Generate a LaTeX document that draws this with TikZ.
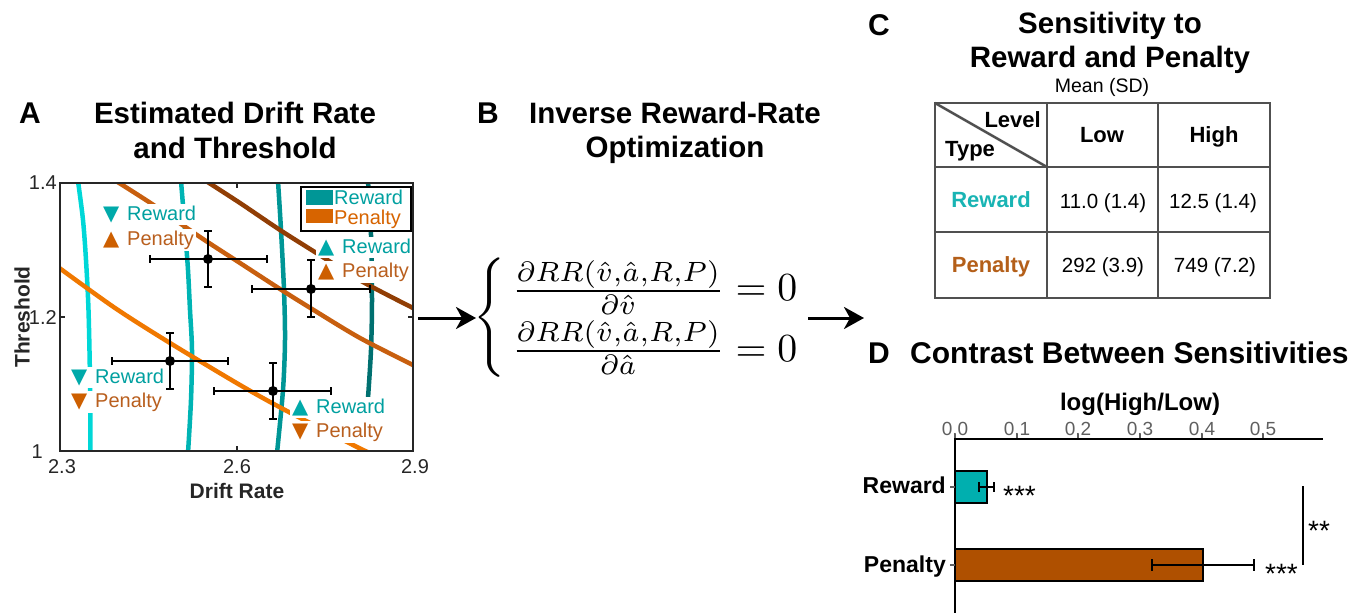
\documentclass[tikz,border=0pt]{standalone}
\usepackage[no-math]{fontspec}
\setmainfont{Liberation Sans}
\newfontfamily\djv{DejaVu Sans}
\usetikzlibrary{arrows.meta}
\newcommand\setfs[1]{\fontsize{#1}{#1}\selectfont}
\definecolor{cyA}{RGB}{0,215,215}
\definecolor{cyB}{RGB}{0,180,180}
\definecolor{cyC}{RGB}{0,150,150}
\definecolor{cyD}{RGB}{0,112,112}
\definecolor{orA}{RGB}{240,120,0}
\definecolor{orB}{RGB}{200,95,15}
\definecolor{orC}{RGB}{145,62,5}
\definecolor{rewT}{RGB}{0,160,160}
\definecolor{penT}{RGB}{185,95,30}
\definecolor{triT}{RGB}{0,170,170}
\definecolor{triO}{RGB}{205,95,0}
\definecolor{legT}{RGB}{0,150,150}
\definecolor{legO}{RGB}{215,100,0}
\definecolor{tabT}{RGB}{25,180,180}
\definecolor{tabO}{RGB}{180,95,25}
\definecolor{barT}{RGB}{0,175,175}
\definecolor{barO}{RGB}{175,80,0}
\definecolor{tabline}{RGB}{80,80,80}
\definecolor{axgray}{RGB}{95,95,95}
\newcommand\tri[2]{\makebox[24pt][l]{\raisebox{-0.5pt}{\djv\setfs{21}\textcolor{#1}{#2}}}}
\begin{document}
\begin{tikzpicture}[x=1pt,y=-1pt,
  ttl/.style={font=\setfs{29.5}\bfseries, anchor=base, inner sep=0},
  plab/.style={font=\setfs{30}\bfseries, anchor=base west, inner sep=0},
  ticklab/.style={font=\setfs{20}, text=black!85, inner sep=0},
  lbl/.style={fill=white, inner sep=2pt, anchor=base west, font=\setfs{20}},
  crv/.style={line width=4.5pt},
  errb/.style={line width=2.8pt, black},
  arr/.style={line width=3pt, -{Stealth[length=20pt,width=22pt,inset=6pt]}},
  tbl/.style={line width=2.5pt, tabline},
  tbold/.style={font=\setfs{22}\bfseries, anchor=base, inner sep=0},
  tval/.style={font=\setfs{20.5}, anchor=base, inner sep=0},
  dlab/.style={font=\setfs{23}\bfseries, anchor=base east, inner sep=0},
  star/.style={font=\setfs{28}, anchor=base west, inner sep=0},
  bar/.style={line width=2.2pt, draw=black}
]
\useasboundingbox (0,0) rectangle (1369,613);

% ---------------- Panel A ----------------
\node[plab] (labA) at (19,123) {A};
\node[ttl] (tA1) at (235,123) {Estimated Drift Rate};
\node[ttl] (tA2) at (235,158) {and Threshold};

\begin{scope}
\clip (60,183) rectangle (413,451);
\draw[crv, cyA] plot[smooth] coordinates {(78,181) (83,220) (86,260) (88.5,310) (90,380) (90.5,453)};
\draw[crv, cyB] plot[smooth] coordinates {(181,181) (185,230) (188,270) (190,310) (192,350) (191,400) (188,453)};
\draw[crv, cyC] plot[smooth] coordinates {(278,181) (281,230) (284,290) (285,340) (283,390) (277,453)};
\draw[crv, cyD] plot[smooth] coordinates {(368,181) (371,235) (372,300) (371,350) (368,398)};
\draw[crv, orA] plot[smooth] coordinates {(58,267) (115,308) (170,343) (240,385) (285,410) (355,446) (370,453)};
\draw[crv, orB] plot[smooth] coordinates {(116,181) (152,204) (200,237) (240,263) (280,289) (312,309) (360,338) (415,366)};
\draw[crv, orC] plot[smooth] coordinates {(206,181) (240,203) (280,230) (318,254) (363,282) (415,309)};
\end{scope}

% labels in plot
\node[lbl] (l1a) at (101,220) {\tri{triT}{▼}\textcolor{rewT}{Reward}};
\node[lbl] (l1b) at (101,245) {\tri{triO}{▲}\textcolor{penT}{Penalty}};
\node[lbl] (l2a) at (316,253) {\tri{triT}{▲}\textcolor{rewT}{Reward}};
\node[lbl] (l2b) at (316,277) {\tri{triO}{▲}\textcolor{penT}{Penalty}};
\node[lbl] (l3a) at (69,383) {\tri{triT}{▼}\textcolor{rewT}{Reward}};
\node[lbl] (l3b) at (69,407) {\tri{triO}{▼}\textcolor{penT}{Penalty}};
\node[lbl] (l4a) at (290,413) {\tri{triT}{▲}\textcolor{rewT}{Reward}};
\node[lbl] (l4b) at (290,437) {\tri{triO}{▼}\textcolor{penT}{Penalty}};

% legend
\draw[fill=white, line width=1.5pt] (301,187) rectangle (411,231);
\fill[legT] (306,190) rectangle (333,205);
\fill[legO] (306,209) rectangle (333,223);
\node[font=\setfs{20}, text=rewT, anchor=base west, inner sep=0] (legr) at (334,204) {Reward};
\node[font=\setfs{20}, text=legO, anchor=base west, inner sep=0] (legp) at (334,224) {Penalty};

% error bars
\foreach \cx/\cy/\xa/\xb/\ya/\yb in {208/259/150/267/231/287, 311/289/252/370/260/317, 170/361/112/228/333/389, 273/391/214/331/363/419}{
  \draw[errb] (\xa,\cy) -- (\xb,\cy);
  \draw[errb] (\cx,\ya) -- (\cx,\yb);
  \draw[errb] (\xa,\cy-4) -- (\xa,\cy+4);
  \draw[errb] (\xb,\cy-4) -- (\xb,\cy+4);
  \draw[errb] (\cx-4,\ya) -- (\cx+4,\ya);
  \draw[errb] (\cx-4,\yb) -- (\cx+4,\yb);
  \fill (\cx,\cy) circle (5);
}

% frame and ticks
\draw[line width=2pt, black!85] (60,183) rectangle (413,451);
\draw[line width=1.5pt, black!85] (237,183) -- (237,188) (237,451) -- (237,446) (60,317) -- (65,317) (413,317) -- (408,317);
\node[ticklab, anchor=base] (x1) at (62,473) {2.3};
\node[ticklab, anchor=base] (x2) at (237,473) {2.6};
\node[ticklab, anchor=base] (x3) at (415,473) {2.9};
\node[ticklab, anchor=base east] (y1) at (57,189) {1.4};
\node[ticklab, anchor=base east] (y2) at (57,324) {1.2};
\node[ticklab, anchor=base east] (y3) at (43,458) {1};
\node[font=\setfs{21}\bfseries, anchor=base, inner sep=0, text=black!85] (xlab) at (237,498) {Drift Rate};
\node[font=\setfs{21}\bfseries, rotate=90, inner sep=0, text=black!85] (ylab) at (22,317) {Threshold};

% ---------------- Panel B ----------------
\node[plab] (labB) at (477,123) {B};
\node[ttl] (tB1) at (675,123) {Inverse Reward-Rate};
\node[ttl] (tB2) at (675,157) {Optimization};
\node[scale=3.98, inner sep=0] (eq) at (641,318) {$\left\{\arraycolsep=1.5pt\begin{array}{l}
 \frac{\partial RR(\hat{v},\hat{a},R,P)}{\partial\hat{v}}=0\\[1.5pt]
 \frac{\partial RR(\hat{v},\hat{a},R,P)}{\partial\hat{a}}=0
 \end{array}\right.$};
\coordinate (a1s) at (418,318);
\coordinate (a1e) at (476,318);
\draw[arr] (a1s) -- (a1e);
\coordinate (a2s) at (808,318);
\coordinate (a2e) at (864,318);
\draw[arr] (a2s) -- (a2e);

% ---------------- Panel C ----------------
\node[plab] (labC) at (868,35) {C};
\node[ttl] (tC1) at (1110,33) {Sensitivity to};
\node[ttl] (tC2) at (1110,67) {Reward and Penalty};
\node[font=\setfs{19.5}, anchor=base, inner sep=0] (msd) at (1102,92) {Mean (SD)};
\draw[tbl] (935,103) rectangle (1270,298);
\draw[tbl] (1047,103) -- (1047,298) (1158,103) -- (1158,298) (935,167) -- (1270,167) (935,232) -- (1270,232);
\draw[tbl] (935,103) -- (1047,167);
\node[tbold, anchor=base east] (lev) at (1041,127) {Level};
\node[tbold, anchor=base west] (typ) at (945,156) {Type};
\node[tbold] (low) at (1102,142) {Low};
\node[tbold] (high) at (1214,142) {High};
\node[tbold, text=tabT] (cr) at (991,207) {Reward};
\node[tbold, text=tabO] (cp) at (991,272) {Penalty};
\node[tval] (v11) at (1103,208) {11.0 (1.4)};
\node[tval] (v12) at (1213,208) {12.5 (1.4)};
\node[tval] (v21) at (1103,272) {292 (3.9)};
\node[tval] (v22) at (1215,272) {749 (7.2)};

% ---------------- Panel D ----------------
\node[plab] (labD) at (868,363) {D};
\node[plab] (tD) at (910,363) {Contrast Between Sensitivities};
\node[font=\setfs{24}\bfseries, anchor=base, inner sep=0] (xl) at (1140,410) {log(High/Low)};
\foreach \xx/\tt in {955/0.0, 1017/0.1, 1078/0.2, 1140/0.3, 1202/0.4, 1263/0.5}{
  \node[font=\setfs{19}, text=axgray, anchor=base, inner sep=0] at (\xx,435) {\tt};
  \draw[line width=1.2pt, axgray] (\xx,439) -- (\xx,434);
}
\draw[line width=2.5pt] (953.75,439) -- (1323,439);
\draw[line width=2.5pt] (955,439) -- (955,613);
\draw[bar, fill=barT] (955,471) rectangle (987,503);
\draw[bar, fill=barO] (955,549) rectangle (1203,581);
\draw[errb] (979,487) -- (994,487) (979,482) -- (979,492) (994,482) -- (994,492);
\draw[errb] (1152,565) -- (1254,565) (1152,559) -- (1152,571) (1254,559) -- (1254,571);
\draw[line width=1.5pt, axgray] (950,487) -- (955,487) (950,565) -- (955,565);
\node[dlab] (dr) at (946,493) {Reward};
\node[dlab] (dp) at (946,572) {Penalty};
\node[star] (s1) at (1003,505) {***};
\node[star] (s2) at (1265,583) {***};
\draw[line width=2.2pt] (1303,486) -- (1303,565);
\node[star] (s3) at (1308,540) {**};
\end{tikzpicture}
\end{document}
